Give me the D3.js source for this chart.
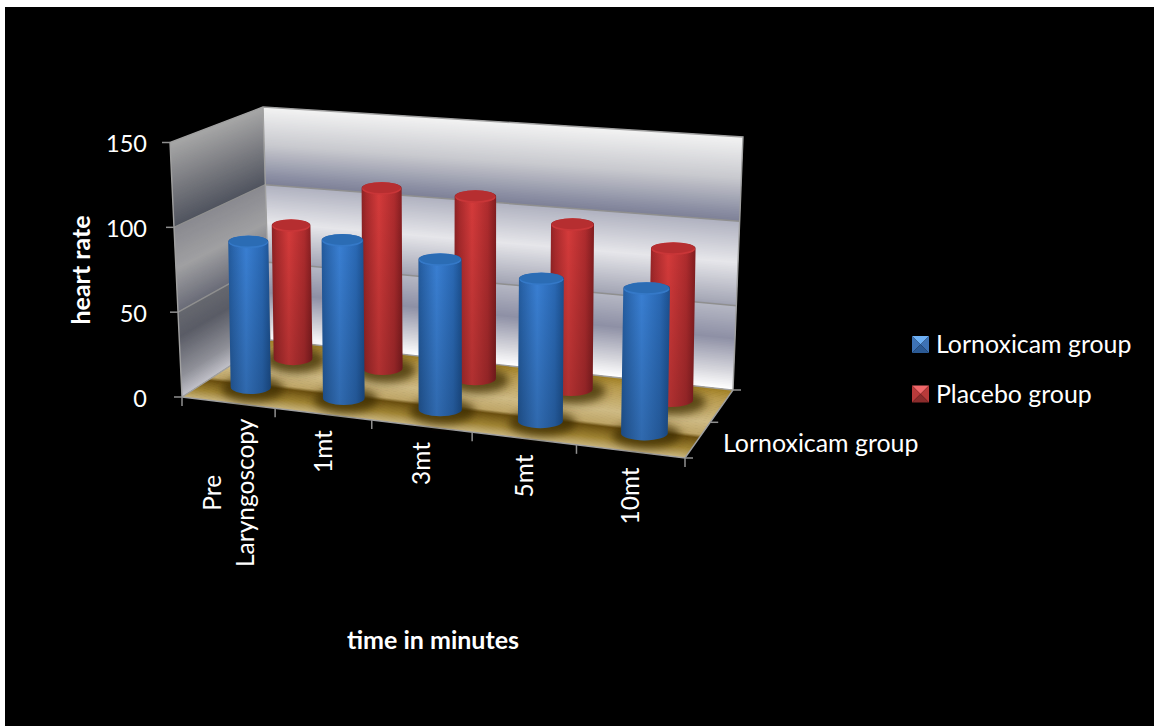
<!DOCTYPE html>
<html>
<head>
<meta charset="utf-8">
<script src="https://cdn.jsdelivr.net/npm/d3@7"></script>
<style>
  html, body { margin: 0; padding: 0; background: #fff; }
  svg { display: block; }
  text { font-family: Lato, "Open Sans", sans-serif; fill: #fff; }
  .tick-label { font-size: 24.5px; }
  .value-label { font-size: 23.5px; }
  .axis-title { font-size: 25px; font-weight: 700; }
  .legend-text { font-size: 24.9px; }
</style>
</head>
<body>
<div id="chart"></div>
<script>
const categories = [["Pre", "Laryngoscopy"], ["1mt"], ["3mt"], ["5mt"], ["10mt"]];
const seriesNames = ["Lornoxicam group", "Placebo group"];
const lornoxicamValues = [87, 93, 87, 81.5, 82];
const placeboValues = [83, 110.5, 110, 98, 89];
const valueTicks = [0, 50, 100, 150];

const WIDTH = 1154;
const HEIGHT = 726;

const svg = d3.select("#chart").append("svg").attr("width", WIDTH).attr("height", HEIGHT);
const defs = svg.append("defs");

svg.append("rect").attr("x", 5).attr("y", 7).attr("width", WIDTH - 5).attr("height", HEIGHT - 7).attr("fill", "#000");

// unit square -> quad, corners in order (0,0) (1,0) (1,1) (0,1)
function quadMap([p0, p1, p2, p3]) {
  const dx1 = p1[0] - p2[0], dx2 = p3[0] - p2[0], sx = p0[0] - p1[0] + p2[0] - p3[0];
  const dy1 = p1[1] - p2[1], dy2 = p3[1] - p2[1], sy = p0[1] - p1[1] + p2[1] - p3[1];
  const den = dx1 * dy2 - dx2 * dy1;
  const g = (sx * dy2 - dx2 * sy) / den;
  const h = (dx1 * sy - sx * dy1) / den;
  const a = p1[0] - p0[0] + g * p1[0], b = p3[0] - p0[0] + h * p3[0];
  const d = p1[1] - p0[1] + g * p1[1], e = p3[1] - p0[1] + h * p3[1];
  return (u, v) => {
    const w = g * u + h * v + 1;
    return [(a * u + b * v + p0[0]) / w, (d * u + e * v + p0[1]) / w];
  };
}

const floorPlane = quadMap([[182, 397], [685, 458], [733, 390], [270, 340]]);
const topPlane = quadMap([[170, 142.5], [693, 186], [743, 137], [263, 107]]);

const heightScale = d3.scaleLinear().domain([0, 150]).range([0, 1]);
const xBand = d3.scaleBand().domain(d3.range(categories.length)).range([0, 1]);
const depthBand = d3.scaleBand().domain(seriesNames).range([0, 1]);

function project(u, v, value) {
  const t = heightScale(value);
  const a = floorPlane(u, v);
  const b = topPlane(u, v);
  return [a[0] + (b[0] - a[0]) * t, a[1] + (b[1] - a[1]) * t];
}

const polyLine = d3.line();

// walls and floor are overlapping thin strips so the gradients follow the perspective
const backWallColor = d3.scaleLinear()
  .domain([0, 10, 30, 49, 50, 52, 75, 99, 100, 105, 125, 150])
  .range(["#ffffff", "#d8d8de", "#8e90a5", "#b5b7c4", "#a0a2b2", "#a8aab8", "#e6e6ea", "#b0b2c0", "#7f8298", "#8b8ea3", "#c8c9ce", "#f4f4f4"]);
const sideWallColor = d3.scaleLinear()
  .domain([0, 12, 35, 49, 50, 75, 99, 100, 125, 150])
  .range(["#c0c0c8", "#8f9098", "#5a5c66", "#66686f", "#6a6c78", "#a0a0a2", "#8a8a90", "#50545f", "#7c7d82", "#a8a8a8"]);
const floorColor = d3.scaleLinear()
  .domain([0, 0.12, 0.27, 0.32, 0.5, 0.85, 1])
  .range(["#c9b57e", "#a08434", "#6b5010", "#bfa668", "#cfbb85", "#b89a4c", "#a07f22"]);

const stripValues = d3.range(0, 150, 1);
svg.append("g").selectAll("path").data(stripValues).join("path")
  .attr("d", (h) => {
    const h2 = Math.min(h + 2, 150);
    return polyLine([project(0, 1, h), project(1, 1, h), project(1, 1, h2), project(0, 1, h2)]) + "Z";
  })
  .attr("fill", (h) => backWallColor(h));
svg.append("g").selectAll("path").data(stripValues).join("path")
  .attr("d", (h) => {
    const h2 = Math.min(h + 2, 150);
    return polyLine([project(0, 0, h), project(0, 1, h), project(0, 1, h2), project(0, 0, h2)]) + "Z";
  })
  .attr("fill", (h) => sideWallColor(h));

const floorStrips = d3.range(0, 1, 0.01);
svg.append("g").selectAll("path").data(floorStrips).join("path")
  .attr("d", (v) => {
    const v2 = Math.min(v + 0.02, 1);
    return polyLine([project(0, v, 0), project(1, v, 0), project(1, v2, 0), project(0, v2, 0)]) + "Z";
  })
  .attr("fill", (v) => floorColor(v));

const lineColor = "#8f8f8f";

// gridlines, running over both walls
svg.append("g").selectAll("path").data(valueTicks.slice(1, 3)).join("path")
  .attr("d", (h) => polyLine([project(0, 0, h), project(0, 1, h), project(1, 1, h)]))
  .attr("fill", "none")
  .attr("stroke", lineColor)
  .attr("stroke-width", 1.5);

// wall and floor outline
const outlines = [
  [project(0, 0, 0), project(0, 0, 150), project(0, 1, 150), project(1, 1, 150), project(1, 1, 0)],
  [project(0, 1, 150), project(0, 1, 0)],
  [project(0, 0, 0), project(1, 0, 0), project(1, 1, 0), project(0, 1, 0), project(0, 0, 0)],
];
svg.append("g").selectAll("path").data(outlines).join("path")
  .attr("d", polyLine)
  .attr("fill", "none")
  .attr("stroke", "#a0a0a0")
  .attr("stroke-width", 1.4);

// axis ticks
const tickGroup = svg.append("g").attr("stroke", lineColor).attr("stroke-width", 1.5);
valueTicks.forEach((h) => {
  const [x, y] = project(0, 0, h);
  tickGroup.append("line").attr("x1", x - 8).attr("x2", x).attr("y1", y).attr("y2", y);
});
d3.range(categories.length + 1).forEach((i) => {
  const [x, y] = project(i / categories.length, 0, 0);
  tickGroup.append("line").attr("x1", x).attr("x2", x).attr("y1", y).attr("y2", y + 9);
});
[0, 0.5, 1].forEach((v) => {
  const [x, y] = project(1, v, 0);
  tickGroup.append("line").attr("x1", x).attr("x2", x + 8).attr("y1", y).attr("y2", y);
});

// cylinder shading
const seriesStyles = {
  "Lornoxicam group": {
    id: "blue",
    side: ["#235a9c", "#2a66ae", "#3a80d4", "#2a69b5", "#1c508f"],
    top: "#2b6cb4",
    rim: "#3579c8",
    legend: ["#6db0f5", "#3d72b5", "#2b5a95"],
  },
  "Placebo group": {
    id: "red",
    side: ["#8d2224", "#a92a2c", "#d63b3b", "#b02c2e", "#821d20"],
    top: "#b62e30",
    rim: "#c93638",
    legend: ["#f0686a", "#b83a3a", "#8b2c2c"],
  },
};
const sideStops = [0, 0.12, 0.42, 0.8, 1];
Object.values(seriesStyles).forEach((style) => {
  const grad = defs.append("linearGradient").attr("id", `side-${style.id}`);
  style.side.forEach((c, i) => grad.append("stop").attr("offset", sideStops[i]).attr("stop-color", c));
});
const fade = defs.append("linearGradient").attr("id", "fade").attr("x1", 0).attr("x2", 0).attr("y1", 0).attr("y2", 1);
fade.append("stop").attr("offset", 0).attr("stop-color", "#000").attr("stop-opacity", 0);
fade.append("stop").attr("offset", 1).attr("stop-color", "#000").attr("stop-opacity", 0.18);
defs.append("filter").attr("id", "soft").attr("x", "-50%").attr("y", "-100%").attr("width", "200%").attr("height", "300%")
  .append("feGaussianBlur").attr("stdDeviation", 4);

const barData = [
  ...placeboValues.map((value, i) => ({ series: seriesNames[1], value, i })),
  ...lornoxicamValues.map((value, i) => ({ series: seriesNames[0], value, i })),
];
const barHalfWidth = 0.044;
const barLean = 0.012; // the columns barely splay compared with the walls
const leanCenter = project(0.5, 0.5, 0)[0];
const topRy = 6;
const baseRy = 7;

const bars = svg.append("g").selectAll("g").data(barData).join("g");
bars.each(function (d) {
  const g = d3.select(this);
  const style = seriesStyles[d.series];
  const u = xBand(d.i) + xBand.bandwidth() / 2;
  const v = depthBand(d.series) + depthBand.bandwidth() / 2;
  const base = project(u, v, 0);
  const top = [base[0] + (base[0] - leanCenter) * barLean, project(u, v, d.value)[1]];
  const r = (project(u + barHalfWidth, v, 0)[0] - project(u - barHalfWidth, v, 0)[0]) / 2;

  g.append("ellipse")
    .attr("cx", base[0] + 2).attr("cy", base[1] + 2)
    .attr("rx", r + 11).attr("ry", baseRy + 6)
    .attr("fill", "#3a2a05").attr("opacity", 0.75)
    .attr("filter", "url(#soft)");

  const body = `M${top[0] - r},${top[1]}`
    + `L${base[0] - r},${base[1]}`
    + `A${r},${baseRy} 0 0 0 ${base[0] + r},${base[1]}`
    + `L${top[0] + r},${top[1]}`
    + `A${r},${topRy} 0 0 0 ${top[0] - r},${top[1]}Z`;
  g.append("path").attr("d", body).attr("fill", `url(#side-${style.id})`);
  g.append("path").attr("d", body).attr("fill", "url(#fade)");

  g.append("ellipse")
    .attr("cx", top[0]).attr("cy", top[1] + 0.8)
    .attr("rx", r - 0.5).attr("ry", topRy)
    .attr("fill", style.rim);
  g.append("ellipse")
    .attr("cx", top[0]).attr("cy", top[1] - 0.4)
    .attr("rx", r - 1).attr("ry", topRy - 0.6)
    .attr("fill", style.top);
});

// value axis labels
svg.append("g").selectAll("text").data(valueTicks).join("text")
  .attr("class", "value-label")
  .attr("x", 147)
  .attr("y", (h) => project(0, 0, h)[1] + 9.5)
  .attr("text-anchor", "end")
  .text((h) => h);

// category labels, rotated and hanging from the front edge
const labelGroups = svg.append("g").selectAll("g").data(categories).join("g")
  .attr("transform", (d, i) => {
    const [x, y] = project(xBand(i) + xBand.bandwidth() / 2, 0, 0);
    return `translate(${x},${y + 16}) rotate(-90)`;
  });
labelGroups.each(function (lines) {
  const g = d3.select(this);
  const texts = g.selectAll("text").data(lines).join("text")
    .attr("class", "tick-label")
    .attr("text-anchor", "middle")
    .attr("y", (d, i) => 9 + (i - (lines.length - 1) / 2) * 33)
    .text((d) => d);
  const longest = d3.max(texts.nodes(), (n) => n.getComputedTextLength());
  texts.attr("x", -longest / 2);
});

// the one series label that fits along the depth axis
svg.append("text").attr("class", "legend-text").attr("x", 723).attr("y", 452).text(seriesNames[0]);

svg.append("text").attr("class", "axis-title")
  .attr("transform", "translate(90,270) rotate(-90)")
  .attr("text-anchor", "middle")
  .text("heart rate");
svg.append("text").attr("class", "axis-title")
  .attr("x", 433).attr("y", 649)
  .attr("text-anchor", "middle")
  .text("time in minutes");

// legend with bevelled swatches
const swatch = 17;
const legend = svg.append("g").attr("transform", "translate(912,336)");
const legendItems = legend.selectAll("g").data(seriesNames).join("g")
  .attr("transform", (d, i) => `translate(0,${i * 49.5})`);
legendItems.each(function (name) {
  const g = d3.select(this);
  const [light, mid, dark] = seriesStyles[name].legend;
  const c = [swatch / 2, swatch / 2];
  const faces = [
    { pts: [[0, 0], [swatch, 0], c], fill: light },
    { pts: [[0, 0], [0, swatch], c], fill: mid },
    { pts: [[swatch, 0], [swatch, swatch], c], fill: mid },
    { pts: [[0, swatch], [swatch, swatch], c], fill: dark },
  ];
  g.selectAll("path").data(faces).join("path")
    .attr("d", (f) => polyLine(f.pts) + "Z")
    .attr("fill", (f) => f.fill);
  g.append("text").attr("class", "legend-text").attr("x", 24).attr("y", 17).text(name);
});
</script>
</body>
</html>
